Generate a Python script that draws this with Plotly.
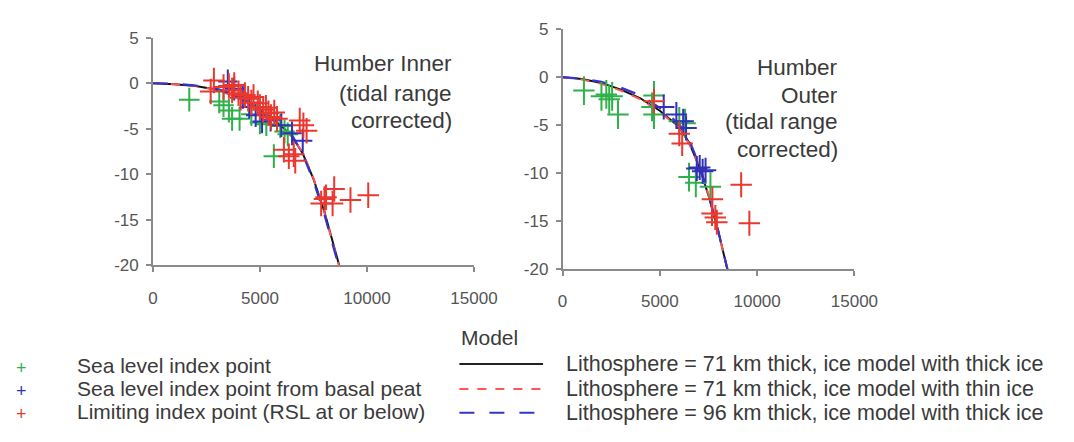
import plotly.graph_objects as go

W, H = 1074, 442

# ---------------- data ----------------
model_age = [0, 1000, 2000, 3000, 4000, 5000, 6000, 6500, 7000, 7500, 8000, 8500, 9000]

inner_thick71 = [0, -0.1, -0.3, -0.7, -1.5, -2.9, -4.7, -5.8, -7.7, -10.5, -14.0, -18.3, -22.5]
inner_thin71 = [0, -0.1, -0.3, -0.75, -1.6, -3.0, -4.8, -5.9, -7.6, -10.4, -14.1, -18.4, -22.6]
inner_thick96 = [0, -0.05, -0.25, -0.6, -1.4, -2.8, -4.6, -5.7, -7.8, -10.7, -14.3, -18.6, -22.8]

outer_thick71 = [0, -0.2, -0.6, -1.3, -2.2, -3.5, -5.2, -6.8, -9.2, -12.3, -16.0, -20.2, -24.5]
outer_thin71 = [0, -0.25, -0.7, -1.4, -2.3, -3.6, -5.3, -6.9, -9.1, -12.2, -16.0, -20.3, -24.6]
outer_thick96 = [0, -0.15, -0.5, -1.1, -1.9, -3.2, -4.9, -6.5, -9.0, -12.2, -16.0, -20.1, -24.4]

inner_green_age = [1700, 3100, 3300, 3550, 3700, 4050, 4600, 5000, 5300, 5650, 5950, 6150, 6300]
inner_green_rsl = [-1.8, -2.0, -2.4, -3.0, -3.9, -3.9, -3.4, -4.3, -4.5, -8.0, -4.7, -5.3, -5.6]

inner_blue_age = [3500, 3800, 4200, 4500, 4800, 5100, 5500, 6000, 6500, 7000]
inner_blue_rsl = [0.2, -0.6, -1.5, -2.6, -3.5, -4.2, -4.0, -4.6, -5.5, -6.3]

inner_red_age = [2700, 2850, 3300, 3550, 3700, 3800, 4000, 4100, 4300, 4450, 4600, 4700,
                 4900, 5000, 5150, 5280, 5400, 5520, 5670, 5800, 6120, 6350, 6580, 6650,
                 6860, 7030, 7180, 7860, 8015, 8090, 8395, 8470, 9230, 10060]
inner_red_rsl = [-0.9, 0.3, -0.4, -0.3, -0.8, -0.2, -1.1, -1.6, -1.3, -1.7, -2.1, -1.5,
                 -2.2, -2.6, -2.9, -2.7, -3.3, -3.7, -3.2, -3.9, -7.3, -8.0, -7.8, -8.5,
                 -4.1, -4.6, -5.2, -13.2, -12.7, -12.5, -13.2, -11.6, -12.8, -12.3]

outer_green_age = [1100, 2000, 2250, 2400, 2550, 2850, 4600, 4700, 4700, 6000, 6300, 6500, 6850, 7600]
outer_green_rsl = [-1.4, -2.0, -1.8, -2.3, -2.0, -3.9, -3.1, -1.9, -3.9, -4.6, -4.8, -10.4, -11.0, -11.4]

outer_blue_age = [5200, 5850, 6200, 6350, 6900, 7050, 7200, 7350]
outer_blue_rsl = [-3.1, -3.9, -4.6, -5.3, -9.5, -9.4, -9.8, -9.7]

outer_red_age = [4700, 6000, 6150, 7700, 7680, 7850, 7930, 9180, 9600]
outer_red_rsl = [-2.5, -5.9, -6.9, -12.7, -14.2, -14.6, -15.1, -11.2, -15.2]

x_ticks = [0, 5000, 10000, 15000]
x_ticktext = ["0", "5000", "10000", "15000"]
y_ticks = [5, 0, -5, -10, -15, -20]
y_ticktext = ["5", "0", "-5", "-10", "-15", "-20"]

point_names = ["Sea level index point", "Sea level index point from basal peat",
               "Limiting index point (RSL at or below)"]
model_names = ["Lithosphere = 71 km thick, ice model with thick ice",
               "Lithosphere = 71 km thick, ice model with thin ice",
               "Lithosphere = 96 km thick, ice model with thick ice"]

# ---------------- style ----------------
GREEN = "#2fb04a"
BLUE = "#3030b8"
RED = "#e8382f"
FONT = "Liberation Sans, Arial, sans-serif"
TXT = "#3a3a3a"
AX = "#8a8a8a"

fig = go.Figure()


def add_models(xa, ya, a, b, c):
    fig.add_trace(go.Scatter(x=model_age, y=a, mode="lines", xaxis=xa, yaxis=ya,
                             line=dict(color="#111111", width=2), showlegend=False))
    fig.add_trace(go.Scatter(x=model_age, y=b, mode="lines", xaxis=xa, yaxis=ya,
                             line=dict(color="#ff5555", width=2, dash="dash"), showlegend=False))
    fig.add_trace(go.Scatter(x=model_age, y=c, mode="lines", xaxis=xa, yaxis=ya,
                             line=dict(color="#3535c8", width=2.2, dash="longdash"), showlegend=False))


def add_points(xa, ya, xs, ys, color, ex, ey):
    fig.add_trace(go.Scatter(
        x=xs, y=ys, mode="markers", xaxis=xa, yaxis=ya, showlegend=False,
        marker=dict(size=2, color=color),
        error_x=dict(type="constant", value=ex, color=color, thickness=2, width=0),
        error_y=dict(type="constant", value=ey, color=color, thickness=2, width=0),
    ))


add_models("x", "y", inner_thick71, inner_thin71, inner_thick96)
add_points("x", "y", inner_green_age, inner_green_rsl, GREEN, 480, 1.3)
add_points("x", "y", inner_blue_age, inner_blue_rsl, BLUE, 450, 1.3)
add_points("x", "y", inner_red_age, inner_red_rsl, RED, 500, 1.4)

add_models("x2", "y2", outer_thick71, outer_thin71, outer_thick96)
add_points("x2", "y2", outer_green_age, outer_green_rsl, GREEN, 550, 1.5)
add_points("x2", "y2", outer_blue_age, outer_blue_rsl, BLUE, 550, 1.3)
add_points("x2", "y2", outer_red_age, outer_red_rsl, RED, 550, 1.3)


def px(x):
    return x / W


def py(y):
    return 1 - y / H


axis_common = dict(showgrid=False, zeroline=False, showline=True, linecolor=AX, linewidth=1.5,
                   ticks="outside", ticklen=5, tickwidth=1.5, tickcolor=AX,
                   tickfont=dict(family=FONT, size=17, color="#555555"))

fig.update_layout(
    width=W, height=H, margin=dict(l=0, r=0, t=0, b=0),
    paper_bgcolor="white", plot_bgcolor="white", showlegend=False,
    xaxis=dict(domain=[px(152), px(482)], range=[0, 15000], anchor="y",
               tickvals=x_ticks, ticktext=x_ticktext, ticklabelstandoff=11, **axis_common),
    yaxis=dict(domain=[py(268), py(30)], range=[-20, 5], anchor="x",
               tickvals=y_ticks, ticktext=y_ticktext, ticklabelstandoff=4, **axis_common),
    xaxis2=dict(domain=[px(573), px(873)], range=[0, 15000], anchor="y2",
                tickvals=x_ticks, ticktext=x_ticktext, ticklabelstandoff=11, **axis_common),
    yaxis2=dict(domain=[py(272), py(21)], range=[-20, 5], anchor="x2",
                tickvals=y_ticks, ticktext=y_ticktext, ticklabelstandoff=4, **axis_common),
)

ann = []


def text(x, y, s, size, anchor="left", color=TXT):
    ann.append(dict(x=px(x), y=py(y), xref="paper", yref="paper", text=s, showarrow=False,
                    xanchor=anchor, yanchor="middle", font=dict(family=FONT, size=size, color=color)))


# panel labels
for s, yy in zip(["Humber Inner", "(tidal range", "corrected)"], [57, 88, 117]):
    text(461, yy, s, 22.5, "right")
for s, yy in zip(["Humber", "Outer", "(tidal range", "corrected)"], [61, 90, 118, 147]):
    text(858, yy, s, 22.5, "right")

# legend (points)
for s, c, yy in zip(point_names, [GREEN, BLUE, RED], [373, 397, 421]):
    text(17, yy + 2, "+", 18, "center", c)
    text(72, yy, s, 21)

# legend (models)
text(467, 343, "Model", 21)
shapes = []
for s, yy, col, dash in zip(model_names, [371, 397, 422],
                            ["#222222", "#ff5555", "#3535c8"], ["solid", "dash", "longdash"]):
    shapes.append(dict(type="line", xref="paper", yref="paper", x0=px(467), x1=px(553),
                       y0=py(yy), y1=py(yy), line=dict(color=col, width=2, dash=dash)))
    text(575, yy, s, 21.5)

fig.update_layout(annotations=ann, shapes=shapes)
fig.write_html("out.html")
